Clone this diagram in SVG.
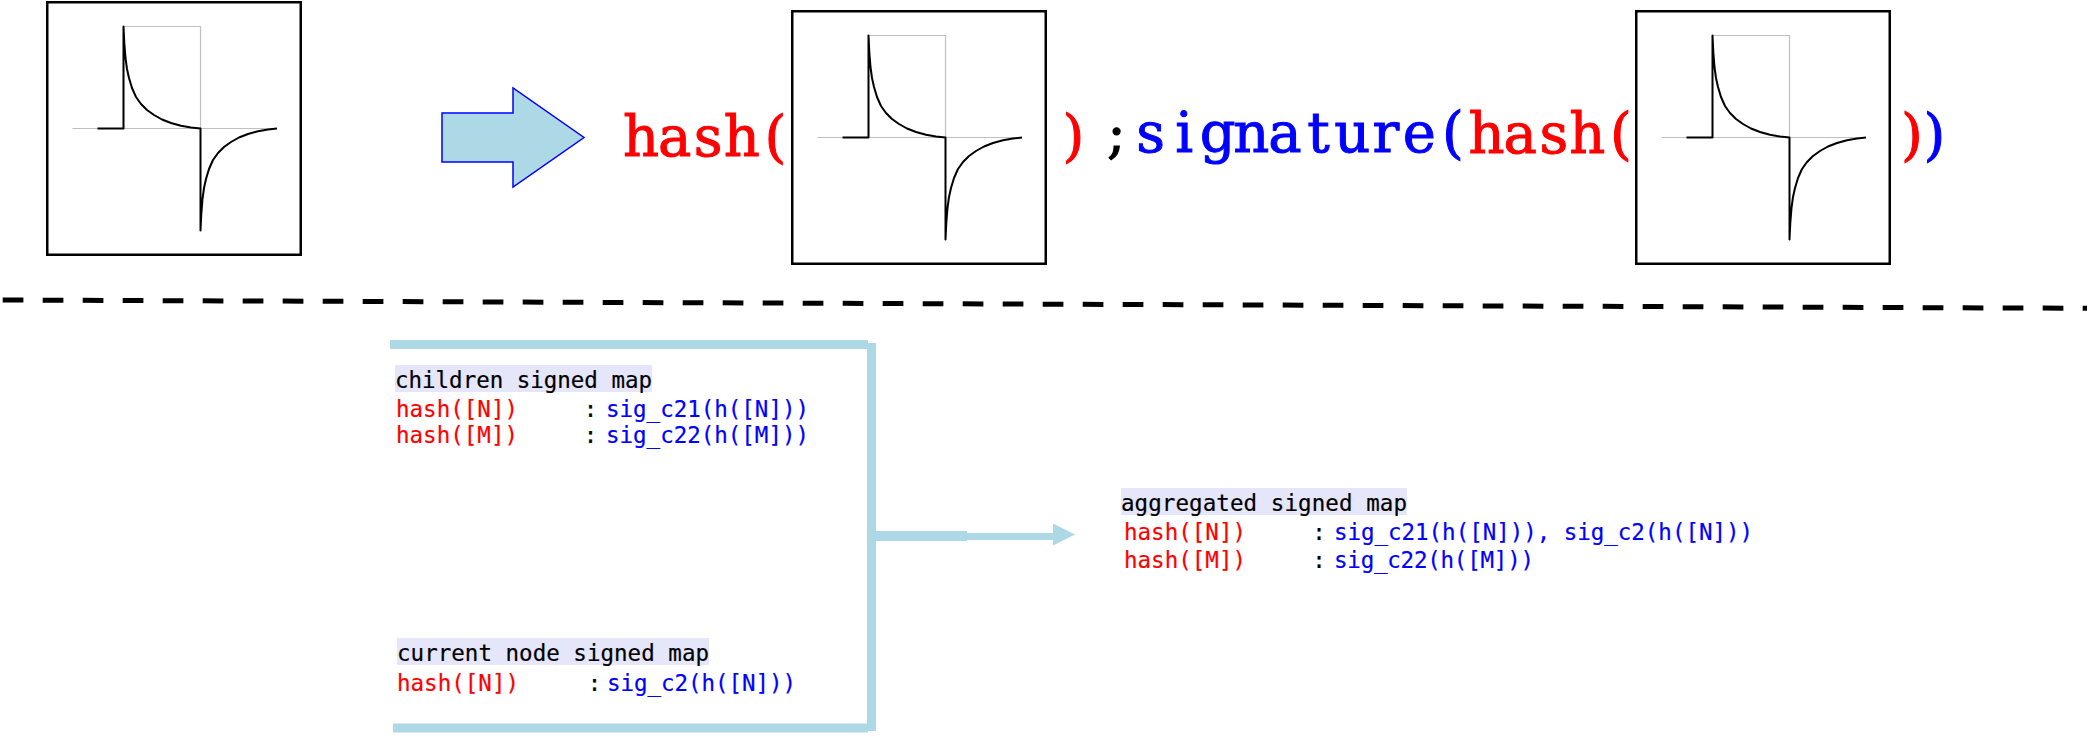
<svg xmlns="http://www.w3.org/2000/svg" xmlns:xlink="http://www.w3.org/1999/xlink" width="2091" height="737" viewBox="0 0 2091 737">
<style>
.big{font-family:'DejaVu Serif','Liberation Serif',serif;font-size:56px;text-anchor:middle;stroke-width:1}
.code{font-family:'DejaVu Sans Mono','Liberation Mono',monospace;font-size:22.5px;stroke-width:0.2}
.red{fill:#ff0000;stroke:#ff0000}
.blue{fill:#0000ff;stroke:#0000ff}
.blk{fill:#000000;stroke:#000000}
.hl{fill:#e6e6fa}
.frame{fill:#ffffff;stroke:#000000;stroke-width:2.5}
.grid{fill:none;stroke:#c0c0c0;stroke-width:1.2}
.wave{fill:none;stroke:#000000;stroke-width:2;stroke-linejoin:round}
.lb{stroke:#add8e6;fill:none}
</style>
<defs>
<g id="plot">
<rect class="frame" x="1.25" y="1.25" width="253.5" height="252.5"/>
<path class="grid" d="M26.5,127.5 H230 M77.5,127.5 V25.5 H154.5 V127.5"/>
<path class="wave" d="M51.5,127.5 H77.5 V25.5 L78.3,42 L79.5,57 L81,68 L83,77 L86,87 L90,96 L95,103 L101,109 L108,114 L116,118.5 L125,122 L135,124.8 L145,126.5 L154.5,127.5 V229.5 L155.3,213 L156.5,198 L158,187 L160,178 L163,168 L167,159 L172,152 L178,146 L185,141 L193,136.5 L202,133 L212,130.2 L222,128.5 L231,127.5"/>
</g>
</defs>
<rect x="0" y="0" width="2091" height="737" fill="#ffffff"/>

<g id="input-image">
<use xlink:href="#plot" x="46" y="1"/>
</g>

<g id="transform-arrow">
<polygon points="442,113 513,113 513,88 584,137.5 513,187 513,162 442,162" fill="#add8e6" stroke="#0000ff" stroke-width="1.5"/>
</g>

<g id="hash-of-image">
<text class="big red" x="641 674.6 708.2 741.8 775.4" y="156">hash(</text>
<use xlink:href="#plot" x="791" y="10"/>
<text class="big red" x="1073.5" y="155">)</text>
</g>

<g id="separator-semicolon">
<text class="big blk" x="1116.5" y="152">;</text>
</g>

<g id="signature-of-hash">
<text class="big blue" x="1150.6 1184.2 1217.8 1251.4 1285 1318.6 1352.2 1385.8 1419.4 1453" y="152">signature(</text>
<text class="big red" x="1486.6 1520.2 1553.8 1587.4 1621" y="153">hash(</text>
<use xlink:href="#plot" x="1635" y="10"/>
<text class="big red" x="1912" y="154">)</text>
<text class="big blue" x="1934.5" y="154">)</text>
</g>

<g id="divider">
<line x1="2.7" y1="300" x2="2087" y2="308.3" stroke="#000000" stroke-width="5" stroke-dasharray="20.7 19.3"/>
</g>

<g id="children-signed-map">
<rect class="hl" x="395" y="365" width="257" height="27"/>
<text class="code blk" x="395" y="388" textLength="257" lengthAdjust="spacing">children signed map</text>
<text class="code red" x="396" y="417" textLength="122" lengthAdjust="spacing">hash([N])</text>
<text class="code blk" x="583.7" y="417">:</text>
<text class="code blue" x="606" y="417" textLength="203" lengthAdjust="spacing">sig_c21(h([N]))</text>
<text class="code red" x="396" y="443" textLength="122" lengthAdjust="spacing">hash([M])</text>
<text class="code blk" x="583.7" y="443">:</text>
<text class="code blue" x="606" y="443" textLength="203" lengthAdjust="spacing">sig_c22(h([M]))</text>
</g>

<g id="current-node-signed-map">
<rect class="hl" x="397" y="638" width="312" height="27"/>
<text class="code blk" x="397" y="661" textLength="312" lengthAdjust="spacing">current node signed map</text>
<text class="code red" x="397" y="691" textLength="122" lengthAdjust="spacing">hash([N])</text>
<text class="code blk" x="587.7" y="691">:</text>
<text class="code blue" x="607" y="691" textLength="189" lengthAdjust="spacing">sig_c2(h([N]))</text>
</g>

<g id="aggregated-signed-map">
<rect class="hl" x="1121" y="488" width="286" height="27"/>
<text class="code blk" x="1121" y="511" textLength="286" lengthAdjust="spacing">aggregated signed map</text>
<text class="code red" x="1124" y="540" textLength="122" lengthAdjust="spacing">hash([N])</text>
<text class="code blk" x="1312.2" y="540">:</text>
<text class="code blue" x="1334" y="540" textLength="419" lengthAdjust="spacing">sig_c21(h([N])), sig_c2(h([N]))</text>
<text class="code red" x="1124" y="568" textLength="122" lengthAdjust="spacing">hash([M])</text>
<text class="code blk" x="1312.2" y="568">:</text>
<text class="code blue" x="1334" y="568" textLength="200" lengthAdjust="spacing">sig_c22(h([M]))</text>
</g>

<g id="connectors">
<line class="lb" x1="390" y1="344.5" x2="868" y2="344.5" stroke-width="9"/>
<line class="lb" x1="871.5" y1="343" x2="871.5" y2="731" stroke-width="9"/>
<line class="lb" x1="393" y1="728" x2="868" y2="728" stroke-width="9"/>
<line class="lb" x1="876" y1="536" x2="967" y2="536" stroke-width="10"/>
<line class="lb" x1="967" y1="536.5" x2="1054" y2="536.5" stroke-width="7"/>
<polygon points="1053,523.5 1075,534.5 1053,545.5" fill="#add8e6"/>
</g>
</svg>
